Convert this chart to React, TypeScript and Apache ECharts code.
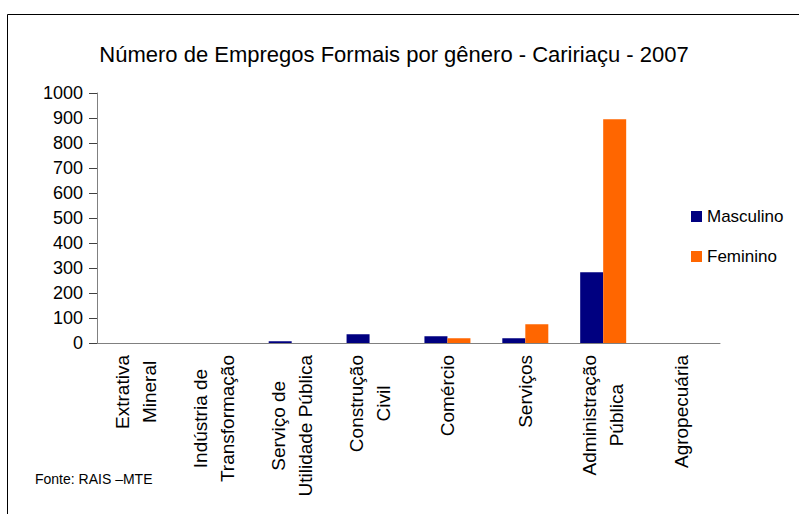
import React, { useEffect, useRef } from "react";
import * as echarts from "echarts";

const categories = [
  "Extrativa\nMineral",
  "Indústria de\nTransformação",
  "Serviço de\nUtilidade Pública",
  "Construção\nCivil",
  "Comércio",
  "Serviços",
  "Administração\nPública",
  "Agropecuária",
];
const masculino = [0, 0, 7, 35, 27, 19, 283, 0];
const feminino = [0, 0, 0, 0, 19, 75, 895, 0];
const titleText = "Número de Empregos Formais por gênero - Caririaçu - 2007";
const sourceText = "Fonte: RAIS –MTE";

const FONT = "'Liberation Sans', Arial, sans-serif";

export default function App() {
  const ref = useRef<HTMLDivElement>(null);
  useEffect(() => {
    if (!ref.current) return;
    const chart = echarts.init(ref.current, undefined, { renderer: "svg" });
    chart.setOption({
      animation: false,
      backgroundColor: "#ffffff",
      title: {
        text: titleText,
        left: 389,
        top: 38,
        textAlign: "center",
        textStyle: { fontFamily: FONT, fontSize: 22, fontWeight: "normal", color: "#000" },
      },
      legend: {
        orient: "vertical",
        left: 686,
        top: 203,
        itemWidth: 11,
        itemHeight: 11,
        itemGap: 23,
        icon: "rect",
        textStyle: { fontFamily: FONT, fontSize: 17, lineHeight: 17, color: "#000" },
        data: ["Masculino", "Feminino"],
      },
      grid: { left: 97, right: 79, top: 93, bottom: 171, containLabel: false },
      xAxis: {
        type: "category",
        data: categories,
        axisLine: { lineStyle: { color: "#808080" } },
        axisTick: { length: 6, lineStyle: { color: "#404040" } },
        axisLabel: {
          interval: 0,
          rotate: 90,
          margin: 12,
          formatter: (v: string) =>
            v
              .split("\n")
              .map((s) => "{c|" + s + "}")
              .join("\n"),
          rich: {
            c: { align: "center", fontFamily: FONT, fontSize: 19, lineHeight: 27, color: "#000" },
          },
        },
      },
      yAxis: {
        type: "value",
        min: 0,
        max: 1000,
        interval: 100,
        splitLine: { show: false },
        axisLine: { show: true, lineStyle: { color: "#808080" } },
        axisTick: { show: true, length: 8, lineStyle: { color: "#404040" } },
        axisLabel: {
          margin: 14,
          fontFamily: FONT,
          fontSize: 18,
          color: "#000",
          formatter: (v: number) => String(v),
        },
      },
      series: [
        {
          name: "Masculino",
          type: "bar",
          data: masculino,
          barWidth: 23,
          barGap: "0%",
          itemStyle: { color: "#000080" },
        },
        {
          name: "Feminino",
          type: "bar",
          data: feminino,
          barWidth: 23,
          barGap: "0%",
          itemStyle: { color: "#FF6600" },
        },
      ],
      graphic: [
        {
          type: "rect",
          shape: { x: 7.5, y: 14.5, width: 820, height: 530 },
          style: { fill: "none", stroke: "#000", lineWidth: 1 },
          silent: true,
        },
        {
          type: "text",
          x: 35,
          y: 479,
          style: {
            text: sourceText,
            fontFamily: FONT,
            fontSize: 14,
            fill: "#000",
            verticalAlign: "middle",
          },
        },
      ],
    });
    return () => chart.dispose();
  }, []);
  return (
    <div
      ref={ref}
      style={{ position: "absolute", left: 0, top: 0, width: 799, height: 514 }}
    />
  );
}
